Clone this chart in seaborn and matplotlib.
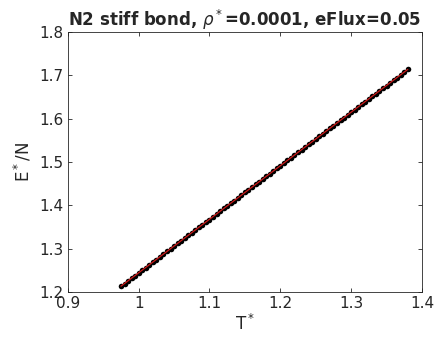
import numpy as np
import pandas as pd
import matplotlib
matplotlib.use('Agg')
import matplotlib.pyplot as plt
import seaborn as sns

# Data
temps = [0.975, 0.980, 0.985, 0.990, 0.995, 1.000, 1.005, 1.010, 1.015, 1.020,
         1.025, 1.030, 1.035, 1.040, 1.045, 1.050, 1.055, 1.060, 1.065, 1.070,
         1.075, 1.080, 1.085, 1.090, 1.095, 1.100, 1.105, 1.110, 1.115, 1.120,
         1.125, 1.130, 1.135, 1.140, 1.145, 1.150, 1.155, 1.160, 1.165, 1.170,
         1.175, 1.180, 1.185, 1.190, 1.195, 1.200, 1.205, 1.210, 1.215, 1.220,
         1.225, 1.230, 1.235, 1.240, 1.245, 1.250, 1.255, 1.260, 1.265, 1.270,
         1.275, 1.280, 1.285, 1.290, 1.295, 1.300, 1.305, 1.310, 1.315, 1.320,
         1.325, 1.330, 1.335, 1.340, 1.345, 1.350, 1.355, 1.360, 1.365, 1.370,
         1.375, 1.380]
energy = [1.214, 1.219, 1.226, 1.232, 1.238, 1.244, 1.252, 1.256, 1.263, 1.269,
          1.275, 1.282, 1.287, 1.294, 1.300, 1.306, 1.313, 1.318, 1.325, 1.331,
          1.337, 1.343, 1.350, 1.355, 1.362, 1.367, 1.374, 1.381, 1.386, 1.393,
          1.399, 1.405, 1.411, 1.418, 1.423, 1.430, 1.436, 1.442, 1.449, 1.454,
          1.461, 1.467, 1.473, 1.479, 1.486, 1.491, 1.498, 1.504, 1.510, 1.516,
          1.523, 1.528, 1.535, 1.541, 1.547, 1.553, 1.560, 1.565, 1.572, 1.578,
          1.584, 1.590, 1.597, 1.602, 1.609, 1.615, 1.621, 1.627, 1.634, 1.639,
          1.646, 1.652, 1.658, 1.664, 1.671, 1.676, 1.683, 1.689, 1.695, 1.701,
          1.707, 1.714]

df = pd.DataFrame({'T': temps, 'E': energy})

sns.set_theme(style='ticks')
plt.rcParams['font.family'] = ['DejaVu Sans']
plt.rcParams['mathtext.fontset'] = 'dejavusans'

fig = plt.figure(figsize=(4.35, 3.44), dpi=100)
ax = fig.add_axes([0.156, 0.151, 0.814, 0.756])

sns.regplot(data=df, x='T', y='E', ax=ax, ci=None,
            scatter_kws={'s': 16, 'color': 'black', 'linewidths': 0, 'alpha': 1},
            line_kws={'color': '#cc1a1a', 'lw': 0.9, 'zorder': 4})

ax.set_xlim(0.9, 1.4)
ax.set_ylim(1.2, 1.8)
ax.set_xticks([0.9, 1.0, 1.1, 1.2, 1.3, 1.4])
ax.set_xticklabels(['0.9', '1', '1.1', '1.2', '1.3', '1.4'])
ax.set_yticks([1.2, 1.3, 1.4, 1.5, 1.6, 1.7, 1.8])
ax.tick_params(direction='in', top=True, right=True, labelsize=11, length=3,
               width=0.6, colors='#262626', pad=3)
for s in ax.spines.values():
    s.set_linewidth(0.6)
    s.set_color('#262626')

ax.set_xlabel('T$^*$', fontsize=12, labelpad=2)
ax.set_ylabel('E$^*$/N', fontsize=12, labelpad=4)
ax.set_title(r'N2 stiff bond, $\rho^*$=0.0001, eFlux=0.05', fontsize=12,
             fontweight='bold', pad=4)

fig.savefig('out.png', dpi=100)
